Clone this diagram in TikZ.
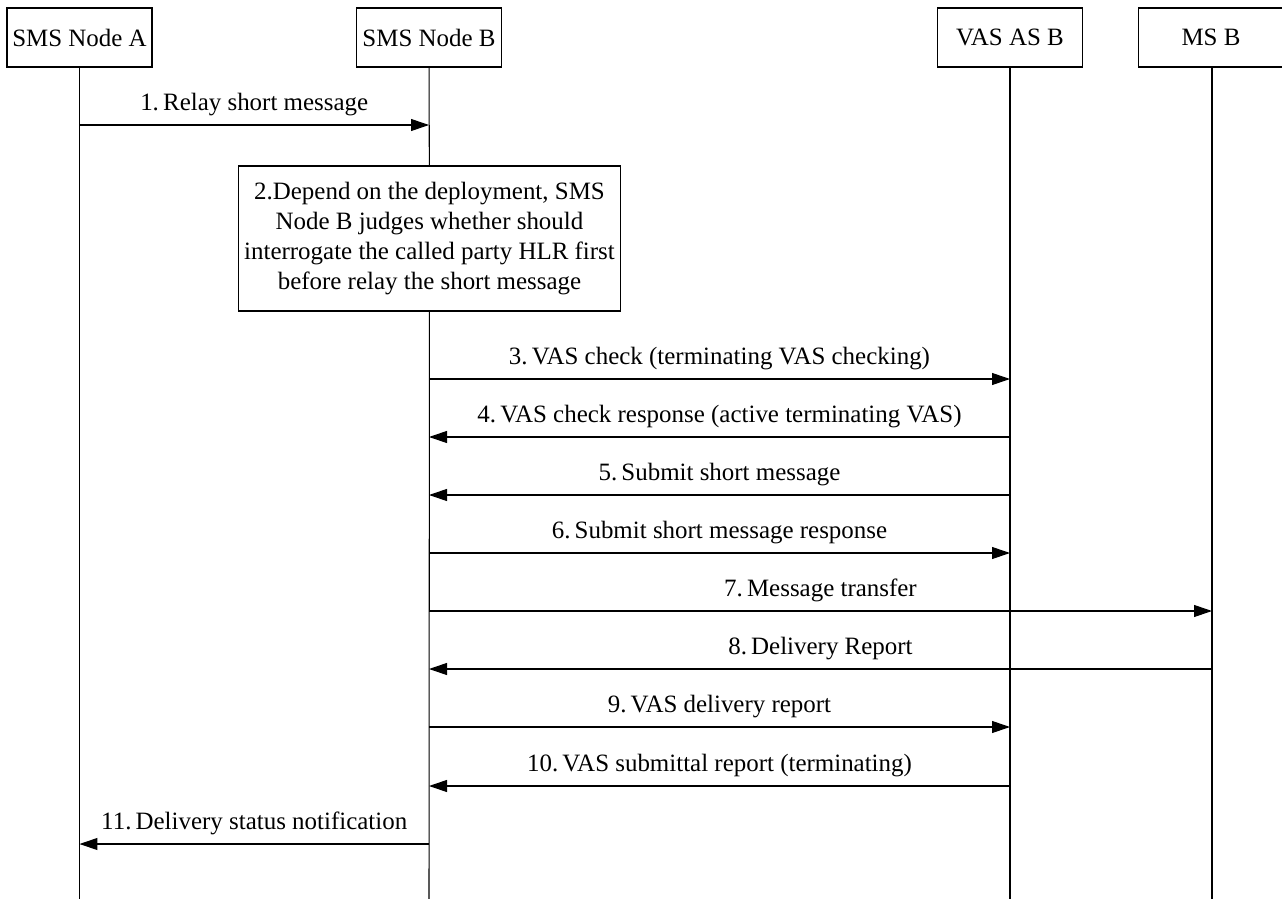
\documentclass[tikz,border=0pt]{standalone}
\usepackage{fontspec}
\setmainfont{Liberation Serif}
\usetikzlibrary{arrows.meta}
\begin{document}
\begin{tikzpicture}[x=0.02cm,y=-0.02cm,
    line width=0.6pt,
    font=\fontsize{14.2}{17}\selectfont,
    head/.style={draw, minimum width=2.9cm, minimum height=1.18cm, inner sep=0pt},
    msg/.style={-{Triangle[length=0.36cm,width=0.24cm]}},
    lbl/.style={above=3pt, inner sep=2pt}]
    \useasboundingbox (0,0) rectangle (1282,899);
    % heads
    \node[head] (A) at (79.5,37.5) {SMS Node A};
    \node[head] (B) at (429,37.5) {SMS Node B};
    \node[head] (V) at (1010,37.5) {VAS AS B};
    \node[head] (M) at (1211,37.5) {MS B};
    \node[draw, minimum width=7.66cm, minimum height=2.9cm, inner sep=0pt, align=center] (judge) at (429.5,238.5)
        {2.Depend on the deployment, SMS\\Node B judges whether should\\interrogate the called party HLR first\\before relay the short message};
    % lifelines
    \coordinate (Aend) at (79.5,899);
    \coordinate (Bend) at (429,899);
    \coordinate (Vend) at (1010,899);
    \coordinate (Mend) at (1212,899);
    \draw (A) -- (Aend);
    \draw (B) -- (judge);
    \draw (judge) -- (Bend);
    \draw (V) -- (Vend);
    \draw (M.south -| Mend) -- (Mend);
    % messages
    \draw[msg] (A |- 0,125) -- (B |- 0,125) node[midway,lbl] (l1) {1.\,Relay short message};
    \draw[msg] (B |- 0,379) -- (V |- 0,379) node[midway,lbl] (l3) {3.\,VAS check (terminating VAS checking)};
    \draw[msg] (V |- 0,437) -- (B |- 0,437) node[midway,lbl] (l4) {4.\,VAS check response (active terminating VAS)};
    \draw[msg] (V |- 0,495) -- (B |- 0,495) node[midway,lbl] (l5) {5.\,Submit short message};
    \draw[msg] (B |- 0,553) -- (V |- 0,553) node[midway,lbl] (l6) {6.\,Submit short message response};
    \draw[msg] (B |- 0,611) -- (Mend |- 0,611) node[midway,lbl] (l7) {7.\,Message transfer};
    \draw[msg] (Mend |- 0,669) -- (B |- 0,669) node[midway,lbl] (l8) {8.\,Delivery Report};
    \draw[msg] (B |- 0,727) -- (V |- 0,727) node[midway,lbl] (l9) {9.\,VAS delivery report};
    \draw[msg] (V |- 0,786) -- (B |- 0,786) node[midway,lbl] (l10) {10.\,VAS submittal report (terminating)};
    \draw[msg] (B |- 0,844) -- (A |- 0,844) node[midway,lbl] (l11) {11.\,Delivery status notification};
\end{tikzpicture}
\end{document}
